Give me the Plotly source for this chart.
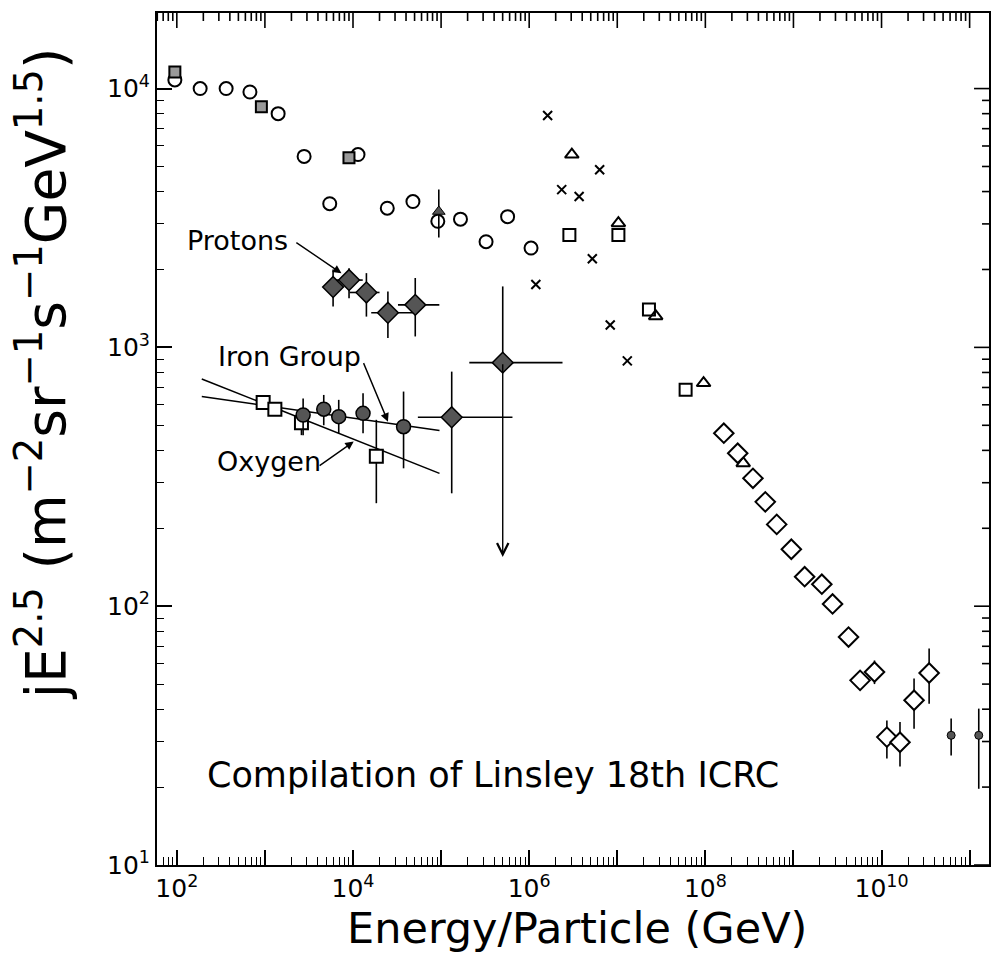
import math
import plotly.graph_objects as go

# ---------------- data ----------------
# open circles
circ_E = [95, 184, 363, 676, 1413, 2786, 1.14e4, 5445, 2.45e4, 4.79e4, 9.18e4, 1.66e5, 3.24e5, 5.69e5, 1.05e6]
circ_J = [1.08e4, 1.0e4, 1.0e4, 9.7e3, 8.0e3, 5.47e3, 5.56e3, 3.59e3, 3.45e3, 3.66e3, 3.07e3, 3.13e3, 2.56e3, 3.2e3, 2.42e3]

# grey squares (low energy)
gsq_E = [95, 912, 9.0e3]
gsq_J = [1.16e4, 8.5e3, 5.4e3]

# open squares (high energy)
sq_E = [2.86e6, 1.03e7, 2.29e7, 5.97e7]
sq_J = [2.72e3, 2.72e3, 1.4e3, 686]

# open triangles
tri_E = [3.05e6, 1.03e7, 2.73e7, 9.55e7, 2.69e8]
tri_J = [5.56e3, 3.02e3, 1.32e3, 728, 357]

# crosses
x_E = [1.62e6, 2.34e6, 3.69e6, 6.31e6, 5.21e6, 1.19e6, 8.32e6, 1.30e7]
x_J = [7.87e3, 4.07e3, 3.83e3, 4.86e3, 2.2e3, 1.75e3, 1.22e3, 887]

# open diamonds (giant air showers)
dia_E = [1.62e8, 2.33e8, 3.47e8, 4.79e8, 6.46e8, 9.46e8, 1.34e9, 2.10e9, 2.78e9, 4.22e9, 5.71e9,
         8.32e9, 1.15e10, 1.62e10, 2.34e10, 3.47e10]
dia_J = [466, 390, 312, 253, 207, 166, 130, 121.6, 102, 76, 51.7, 55.7, 31.2, 29.8, 43.3, 55.2]
dia_hi = [None] * 11 + [61.7, 36.2, 35.7, 52.5, 68.6]
dia_lo = [None] * 11 + [50.0, 25.8, 24.0, 33.6, 42.0]

# small filled circles (highest energies)
sfc_E = [6.17e10, 1.27e11]
sfc_J = [31.7, 31.7]
sfc_hi = [36.8, 40.2]
sfc_lo = [26.5, 19.7]

# filled triangle
ftri_E = [9.42e4]
ftri_J = [3.35e3]
ftri_hi = [4.07e3]
ftri_lo = [2.66e3]

# protons (filled diamonds)
pro_E = [5943, 9016, 1.42e4, 2.49e4, 5.09e4]
pro_J = [1.71e3, 1.82e3, 1.63e3, 1.36e3, 1.46e3]
pro_hi = [2.0e3, 2023, 1936, 1644, 1854]
pro_lo = [1.44e3, 1549, 1315, 1086, 1102]
pro_Elo = [5943, 6166, 9183, 1.61e4, 3.24e4]
pro_Ehi = [5943, 1.29e4, 2.0e4, 4.79e4, 9.55e4]

# high energy composition points (filled diamonds)
hd_E = [1.32e5, 5.01e5]
hd_J = [537, 873]
hd_hi = [806, 1.72e3]
hd_lo = [273, 873]
hd_Elo = [5.45e4, 2.09e5]
hd_Ehi = [6.46e5, 2.39e6]
ul_E = 5.01e5        # upper limit arrow
ul_J = 155

# iron group (filled circles)
fe_E = [2716, 4656, 6887, 1.30e4, 3.75e4]
fe_J = [548, 577, 540, 556, 494]
fe_hi = [635, 655, 627, 665, 675]
fe_lo = [458, 500, 466, 466, 341]

# oxygen (open squares)
ox_E = [955, 1297, 2600, 1.84e4]
ox_J = [612, 577, 512, 380]
ox_hi = [612, 577, 573, 525]
ox_lo = [612, 577, 458, 250]

# fitted lines
oxline_E = [192, 9.59e4]
oxline_J = [755, 326]
feline_E = [192, 9.59e4]
feline_J = [646, 477]

# axis ticks
x_decades = [10 ** k for k in range(2, 12)]
x_ticktext = ["10<sup>%d</sup>" % k if k % 2 == 0 else "" for k in range(2, 12)]
y_decades = [10, 100, 1000, 10000]
y_ticktext = ["10<sup>%d</sup>" % k for k in range(1, 5)]
x_minor = [m * 10 ** k for k in range(1, 12) for m in range(2, 10)]
y_minor = [m * 10 ** k for k in range(1, 5) for m in range(2, 10)]

# label annotations (log coordinates of text / arrow)
labels = ["Protons", "Iron Group", "Oxygen"]
label_x = [2.69, 3.28, 3.05]
label_y = [3.413, 2.965, 2.559]
arrow_tail_x = [3.34, 4.113, 3.604]
arrow_tail_y = [3.409, 2.945, 2.539]
arrow_head_x = [3.869, 4.397, 4.008]
arrow_head_y = [3.286, 2.713, 2.636]

X_RANGE = [1.775, 11.22]
Y_RANGE = [1.0, 4.292]

# ---------------- figure ----------------
FONT = "DejaVu Sans"
BLACK = "black"
GREY = "#555555"
PLOT_W = 991 - 157
PLOT_H = 955 - 13 - 90


def errs(y, hi, lo):
    up = [(h - v) if h is not None else 0 for v, h in zip(y, hi)]
    dn = [(v - l) if l is not None else 0 for v, l in zip(y, lo)]
    return up, dn


def ebar(up, dn):
    return dict(type="data", symmetric=False, array=up, arrayminus=dn, color=BLACK, thickness=1.6, width=0)


fig = go.Figure()

# lines
fig.add_trace(go.Scatter(x=oxline_E, y=oxline_J, mode="lines", line=dict(color=BLACK, width=1.6)))
fig.add_trace(go.Scatter(x=feline_E, y=feline_J, mode="lines", line=dict(color=BLACK, width=1.6)))

# top-edge mirrored ticks, built from the tick lists and the y range
y_top = 10 ** Y_RANGE[1]
span = Y_RANGE[1] - Y_RANGE[0]
tx, ty = [], []
for vals, length in ((x_decades, 15), (x_minor, 8)):
    y_end = 10 ** (Y_RANGE[1] - span * length / PLOT_H)
    for v in vals:
        if X_RANGE[0] <= math.log10(v) <= X_RANGE[1]:
            tx += [v, v, None]
            ty += [y_top, y_end, None]
fig.add_trace(go.Scatter(x=tx, y=ty, mode="lines", line=dict(color=BLACK, width=1.6),
                         hoverinfo="skip", cliponaxis=False))

# open circles
fig.add_trace(go.Scatter(x=circ_E, y=circ_J, mode="markers",
                         marker=dict(symbol="circle-open", size=13, color=BLACK, line=dict(width=2))))
# grey squares
fig.add_trace(go.Scatter(x=gsq_E, y=gsq_J, mode="markers",
                         marker=dict(symbol="square", size=11, color="#9a9a9a", line=dict(color=BLACK, width=2))))
# open squares
fig.add_trace(go.Scatter(x=sq_E, y=sq_J, mode="markers",
                         marker=dict(symbol="square-open", size=12, color=BLACK, line=dict(width=2))))
# open triangles
fig.add_trace(go.Scatter(x=tri_E, y=tri_J, mode="markers",
                         marker=dict(symbol="triangle-up-open", size=12, color=BLACK, line=dict(width=2))))
# crosses
fig.add_trace(go.Scatter(x=x_E, y=x_J, mode="markers",
                         marker=dict(symbol="x-thin-open", size=9, color=BLACK, line=dict(width=2))))
# open diamonds
up, dn = errs(dia_J, dia_hi, dia_lo)
fig.add_trace(go.Scatter(x=dia_E, y=dia_J, mode="markers",
                         marker=dict(symbol="diamond", size=15, color="white", line=dict(color=BLACK, width=2)),
                         error_y=ebar(up, dn)))
# small filled circles
up, dn = errs(sfc_J, sfc_hi, sfc_lo)
fig.add_trace(go.Scatter(x=sfc_E, y=sfc_J, mode="markers",
                         marker=dict(symbol="circle", size=8, color=GREY, line=dict(color=BLACK, width=1)),
                         error_y=ebar(up, dn)))
# filled triangle
up, dn = errs(ftri_J, ftri_hi, ftri_lo)
fig.add_trace(go.Scatter(x=ftri_E, y=ftri_J, mode="markers",
                         marker=dict(symbol="triangle-up", size=11, color=GREY, line=dict(color=BLACK, width=1)),
                         error_y=ebar(up, dn)))
# oxygen squares
up, dn = errs(ox_J, ox_hi, ox_lo)
fig.add_trace(go.Scatter(x=ox_E, y=ox_J, mode="markers",
                         marker=dict(symbol="square", size=13, color="white", line=dict(color=BLACK, width=2)),
                         error_y=ebar(up, dn)))
# iron group
up, dn = errs(fe_J, fe_hi, fe_lo)
fig.add_trace(go.Scatter(x=fe_E, y=fe_J, mode="markers",
                         marker=dict(symbol="circle", size=14, color=GREY, line=dict(color=BLACK, width=1.5)),
                         error_y=ebar(up, dn)))
# protons
up, dn = errs(pro_J, pro_hi, pro_lo)
fig.add_trace(go.Scatter(x=pro_E, y=pro_J, mode="markers",
                         marker=dict(symbol="diamond", size=16, color=GREY, line=dict(color=BLACK, width=1.5)),
                         error_y=ebar(up, dn),
                         error_x=ebar([h - e for e, h in zip(pro_E, pro_Ehi)],
                                      [e - l for e, l in zip(pro_E, pro_Elo)])))
# high energy filled diamonds
up, dn = errs(hd_J, hd_hi, hd_lo)
fig.add_trace(go.Scatter(x=hd_E, y=hd_J, mode="markers",
                         marker=dict(symbol="diamond", size=16, color=GREY, line=dict(color=BLACK, width=1.5)),
                         error_y=ebar(up, dn),
                         error_x=ebar([h - e for e, h in zip(hd_E, hd_Ehi)],
                                      [e - l for e, l in zip(hd_E, hd_Elo)])))

# mirrored ticks on the right edge, placed through the axis range
shapes = []


def frac(v, rng):
    return (math.log10(v) - rng[0]) / (rng[1] - rng[0])


for vals, length in ((y_decades, 15), (y_minor, 7)):
    for v in vals:
        f = frac(v, Y_RANGE)
        if 0 <= f <= 1:
            shapes.append(dict(type="line", xref="x domain", yref="y domain", x0=1, x1=1 - length / PLOT_W,
                               y0=f, y1=f, line=dict(color=BLACK, width=1.6)))

annotations = []
# upper limit arrow
annotations.append(dict(x=math.log10(ul_E), y=math.log10(ul_J), ax=math.log10(ul_E), ay=math.log10(hd_J[1]),
                        xref="x", yref="y", axref="x", ayref="y", text="", showarrow=True,
                        arrowhead=5, arrowsize=1.6, arrowwidth=1.4, arrowcolor=BLACK))
# labels with arrows
for t, lx, ly, atx, aty, hx, hy in zip(labels, label_x, label_y, arrow_tail_x, arrow_tail_y,
                                       arrow_head_x, arrow_head_y):
    annotations.append(dict(x=lx, y=ly, xref="x", yref="y", text=t, showarrow=False,
                            font=dict(family=FONT, size=27, color=BLACK), xanchor="center", yanchor="middle"))
    annotations.append(dict(x=hx, y=hy, ax=atx, ay=aty, xref="x", yref="y", axref="x", ayref="y",
                            text="", showarrow=True, arrowhead=2, arrowsize=1.2, arrowwidth=1.4,
                            arrowcolor=BLACK))
# compilation note
annotations.append(dict(x=(205 - 157) / PLOT_W, y=(865 - 775) / PLOT_H, xref="paper", yref="paper",
                        text="Compilation of Linsley 18th ICRC",
                        showarrow=False, xanchor="left", yanchor="middle",
                        font=dict(family=FONT, size=35, color=BLACK)))
# axis titles
annotations.append(dict(x=(42 - 157) / PLOT_W, y=(865 - 373) / PLOT_H, xref="paper", yref="paper",
                        text="jE<sup>2.5</sup> (m<sup>\u22122</sup>sr<sup>\u22121</sup>s<sup>\u22121</sup>GeV<sup>1.5</sup>)",
                        textangle=-90, showarrow=False, xanchor="center", yanchor="middle",
                        font=dict(family=FONT, size=55, color=BLACK)))
annotations.append(dict(x=(578 - 157) / PLOT_W, y=(865 - 928) / PLOT_H, xref="paper", yref="paper",
                        text="Energy/Particle (GeV)", showarrow=False, xanchor="center", yanchor="middle",
                        font=dict(family=FONT, size=43, color=BLACK)))

tickfont = dict(family=FONT, size=25, color=BLACK)
common = dict(ticks="inside", ticklen=15, tickwidth=1.6, tickcolor=BLACK, showgrid=False, zeroline=False)
xminor = dict(ticks="inside", ticklen=8, tickwidth=1.4, tickcolor=BLACK, tickmode="array",
              tickvals=x_minor, showgrid=False)
yminor = dict(ticks="inside", ticklen=7, tickwidth=1.4, tickcolor=BLACK, tickmode="array",
              tickvals=y_minor, showgrid=False)

fig.update_layout(
    width=991, height=955,
    margin=dict(l=157, r=0, t=13, b=90),
    paper_bgcolor="white", plot_bgcolor="white",
    showlegend=False,
    annotations=annotations,
    shapes=shapes,
    xaxis=dict(type="log", range=X_RANGE, tickmode="array", tickvals=x_decades, ticktext=x_ticktext,
               showline=True, linecolor=BLACK, linewidth=2, mirror=True, tickfont=tickfont,
               minor=xminor, **common),
    yaxis=dict(type="log", range=Y_RANGE, tickmode="array", tickvals=y_decades, ticktext=y_ticktext,
               showline=True, linecolor=BLACK, linewidth=2, mirror=True, tickfont=tickfont,
               minor=yminor, **common),
)

fig.write_html("out.html")
